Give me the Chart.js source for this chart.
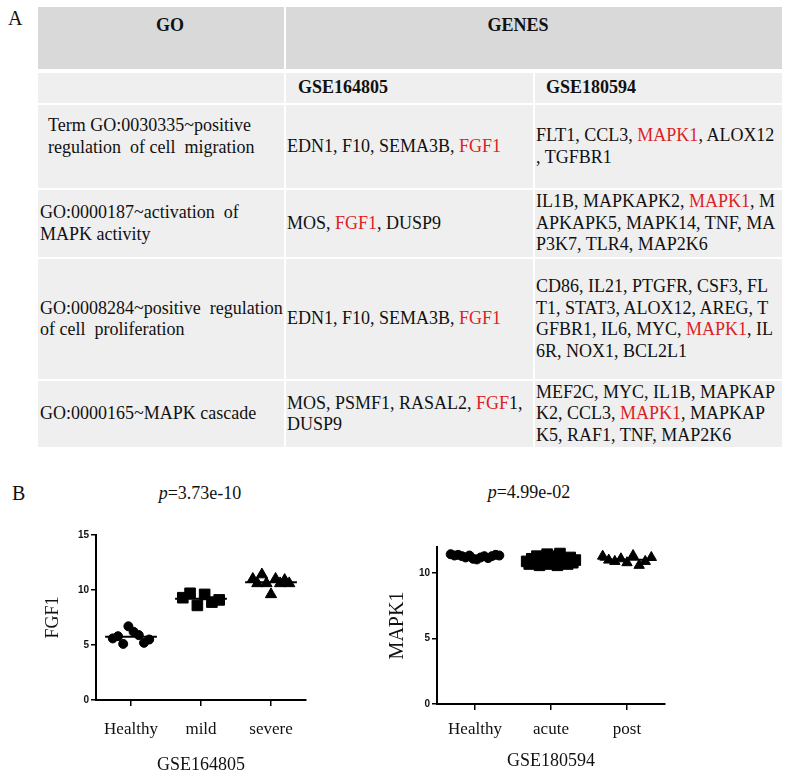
<!DOCTYPE html>
<html>
<head>
<meta charset="utf-8">
<script src="https://cdn.jsdelivr.net/npm/chart.js@4.4.0/dist/chart.umd.min.js"></script>
<style>
body{margin:0;width:785px;height:777px;position:relative;background:#fff;overflow:hidden;
  font-family:"Liberation Serif","Times New Roman",serif;color:#111}
.lab{position:absolute;font-size:20px;line-height:20px}
.c{position:absolute;background:#efefef;font-size:18px;line-height:21.5px;white-space:nowrap;
  display:flex;flex-direction:column;justify-content:center;box-sizing:border-box;overflow:hidden}
.h{background:#d9d9d9;font-weight:bold;justify-content:flex-start;align-items:center}
.b{font-weight:bold}
.r{color:#dc1f26}
.ttl{position:absolute;font-size:18px;line-height:20px;transform:translateX(-50%);white-space:nowrap}
canvas{position:absolute}
</style>
</head>
<body>
<div class="lab" style="left:8px;top:8px">A</div>

<div class="c h" style="left:38px;top:7px;width:246px;height:62px;padding:8px 0 0 18px">GO</div>
<div class="c h" style="left:286px;top:7px;width:496px;height:62px;padding:8px 32px 0 0">GENES</div>

<div class="c" style="left:38px;top:73px;width:246px;height:30px"></div>
<div class="c b" style="left:286px;top:73px;width:247px;height:30px;padding-left:12px">GSE164805</div>
<div class="c b" style="left:535px;top:73px;width:247px;height:30px;padding-left:11px">GSE180594</div>

<div class="c" style="left:38px;top:105px;width:246px;height:83px;padding:10px 0 0 10px;justify-content:flex-start">
  <div>Term GO:0030335~positive</div><div>regulation&nbsp; of cell&nbsp; migration</div></div>
<div class="c" style="left:286px;top:105px;width:247px;height:83px;padding-left:1px">
  <div>EDN1, F10, SEMA3B, <span class="r">FGF1</span></div></div>
<div class="c" style="left:535px;top:105px;width:247px;height:83px;padding-left:1px">
  <div>FLT1, CCL3, <span class="r">MAPK1</span>, ALOX12</div><div>, TGFBR1</div></div>

<div class="c" style="left:38px;top:190px;width:246px;height:67px;padding-left:2px">
  <div>GO:0000187~activation&nbsp; of</div><div>MAPK activity</div></div>
<div class="c" style="left:286px;top:190px;width:247px;height:67px;padding-left:1px">
  <div>MOS, <span class="r">FGF1</span>, DUSP9</div></div>
<div class="c" style="left:535px;top:190px;width:247px;height:67px;padding-left:1px">
  <div>IL1B, MAPKAPK2, <span class="r">MAPK1</span>, M</div><div>APKAPK5, MAPK14, TNF, MA</div><div>P3K7, TLR4, MAP2K6</div></div>

<div class="c" style="left:38px;top:259px;width:246px;height:120px;padding-left:2px">
  <div>GO:0008284~positive&nbsp; regulation</div><div>of cell&nbsp; proliferation</div></div>
<div class="c" style="left:286px;top:259px;width:247px;height:120px;padding-left:1px">
  <div>EDN1, F10, SEMA3B, <span class="r">FGF1</span></div></div>
<div class="c" style="left:535px;top:259px;width:247px;height:120px;padding-left:1px">
  <div>CD86, IL21, PTGFR, CSF3, FL</div><div>T1, STAT3, ALOX12, AREG, T</div><div>GFBR1, IL6, MYC, <span class="r">MAPK1</span>, IL</div><div>6R, NOX1, BCL2L1</div></div>

<div class="c" style="left:38px;top:381px;width:246px;height:66px;padding-left:2px">
  <div>GO:0000165~MAPK cascade</div></div>
<div class="c" style="left:286px;top:381px;width:247px;height:66px;padding-left:1px">
  <div>MOS, PSMF1, RASAL2, <span class="r">FGF</span>1,</div><div>DUSP9</div></div>
<div class="c" style="left:535px;top:381px;width:247px;height:66px;padding-left:1px">
  <div>MEF2C, MYC, IL1B, MAPKAP</div><div>K2, CCL3, <span class="r">MAPK1</span>, MAPKAP</div><div>K5, RAF1, TNF, MAP2K6</div></div>

<div class="lab" style="left:12px;top:483px">B</div>
<div class="ttl" style="left:200px;top:483px"><i>p</i>=3.73e-10</div>
<div class="ttl" style="left:529px;top:482px"><i>p</i>=4.99e-02</div>

<canvas id="chartL" width="340" height="277" style="left:0;top:500px"></canvas>
<canvas id="chartR" width="405" height="277" style="left:380px;top:500px"></canvas>

<script>
// GSE164805 - FGF1 (values ordered left to right as they sit in each cluster)
const groupsL = ['Healthy', 'mild', 'severe'];
const fgf1Healthy = [5.6, 5.8, 5.1, 6.7, 6.2, 5.9, 5.2, 5.5];
const fgf1Mild = [9.3, 9.7, 8.6, 9.6, 8.9, 9.1];
const fgf1Severe = [11.0, 10.6, 11.4, 10.6, 9.6, 11.0, 10.6, 10.9, 10.6];
const ticksL = [0, 5, 10, 15];

// GSE180594 - MAPK1
const groupsR = ['Healthy', 'acute', 'post'];
const mapk1Healthy = [11.45, 11.35, 11.4, 11.3, 11.2, 11.35, 11.1, 11.05, 11.2, 11.3, 11.15, 11.3, 11.4, 11.35];
const mapk1Acute = [10.9, 10.7, 11.1, 10.8, 11.3, 10.6, 11.2, 10.9, 11.45, 10.7, 11.0, 11.3, 10.6, 11.5, 10.8, 11.1, 10.7, 11.2, 10.8, 11.0];
const mapk1Post = [11.3, 11.0, 10.9, 11.1, 10.8, 11.35, 10.6, 10.9, 11.2];
const ticksR = [0, 5, 10];

const serif = '"Liberation Serif", "Times New Roman", serif';
const shapes = ['circle', 'rect', 'triangle'];

function mean(a) {
  return a.reduce((s, v) => s + v, 0) / a.length;
}

function makeDot(id, groups, series, cfg) {
  const datasets = [];
  series.forEach((vals, g) => {
    const c = g + 1;
    // mean bar
    const m = mean(vals);
    datasets.push({
      type: 'line',
      data: [{x: c - cfg.bar, y: m}, {x: c + cfg.bar, y: m}],
      borderColor: '#000',
      borderWidth: 2,
      pointRadius: 0
    });
    // dots spread evenly across the cluster width
    datasets.push({
      data: vals.map((v, i) => ({x: c - cfg.spread + (vals.length > 1 ? 2 * cfg.spread * i / (vals.length - 1) : cfg.spread), y: v})),
      pointStyle: shapes[g],
      pointRadius: cfg.radius[g],
      backgroundColor: '#000',
      borderColor: '#000',
      borderWidth: 1
    });
  });

  return new Chart(document.getElementById(id), {
    type: 'scatter',
    data: {datasets: datasets},
    options: {
      responsive: false,
      animation: false,
      layout: {padding: cfg.padding},
      plugins: {legend: {display: false}, tooltip: {enabled: false}},
      scales: {
        x: {
          type: 'linear', min: 0.5, max: 3.5,
          afterBuildTicks: s => { s.ticks = [1, 2, 3].map(v => ({value: v})); },
          afterFit: s => { s.height = cfg.xHeight; },
          grid: {drawOnChartArea: false, drawTicks: true, tickLength: 6, color: '#000', lineWidth: 1.5},
          border: {color: '#000', width: 2},
          ticks: {
            callback: v => groups[v - 1],
            font: {family: serif, size: 17}, color: '#111', padding: cfg.xPad,
            maxRotation: 0, autoSkip: false
          },
          title: {display: true, text: cfg.xTitle, color: '#111', font: {family: serif, size: 18}, padding: {top: 0, bottom: cfg.xTitlePad}}
        },
        y: {
          min: 0, max: cfg.yMax,
          afterBuildTicks: s => { s.ticks = cfg.yTicks.map(v => ({value: v})); },
          afterFit: s => { s.width = cfg.yWidth; },
          grid: {drawOnChartArea: false, drawTicks: true, tickLength: 5, color: '#000', lineWidth: 1.5},
          border: {color: '#000', width: 2},
          ticks: {font: {family: '"Liberation Sans", Arial, sans-serif', weight: 'bold', size: 10}, color: '#111', padding: 2},
          title: {display: true, text: cfg.yTitle, color: '#111', font: {family: serif, size: cfg.yTitleSize}, padding: {top: cfg.yTitlePad, bottom: 0}}
        }
      }
    }
  });
}

makeDot('chartL', groupsL, [fgf1Healthy, fgf1Mild, fgf1Severe], {
  bar: 0.37, spread: 0.26, radius: [4.5, 7.5, 6.5],
  padding: {top: 35, right: 34, left: 0, bottom: 0},
  xHeight: 77, yWidth: 96, yMax: 15, yTicks: ticksL,
  xPad: 13, xTitle: 'GSE164805', xTitlePad: 1,
  yTitle: 'FGF1', yTitleSize: 18, yTitlePad: 42
});

makeDot('chartR', groupsR, [mapk1Healthy, mapk1Acute, mapk1Post], {
  bar: 0.36, spread: 0.32, radius: [4.5, 7.5, 6],
  padding: {top: 47, right: 120, left: 0, bottom: 0},
  xHeight: 73, yWidth: 57, yMax: 12, yTicks: ticksR,
  xPad: 9, xTitle: 'GSE180594', xTitlePad: 5,
  yTitle: 'MAPK1', yTitleSize: 20, yTitlePad: 6
});
</script>
</body>
</html>
